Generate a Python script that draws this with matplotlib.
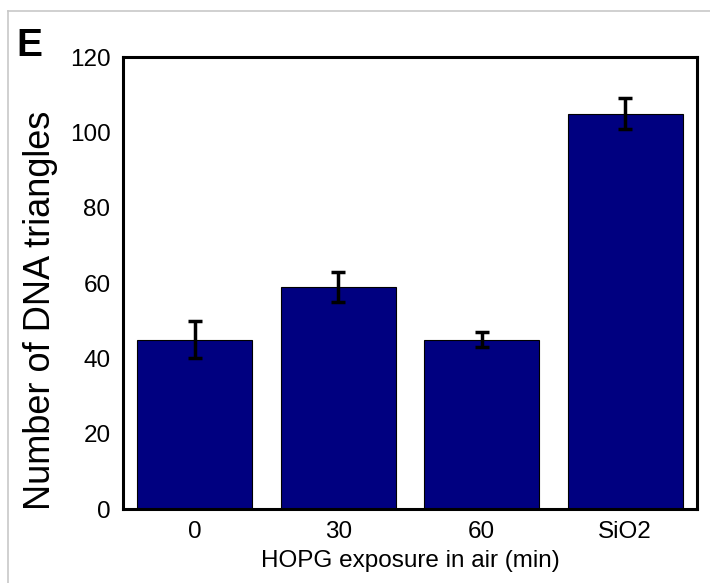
import matplotlib.pyplot as plt
from matplotlib.lines import Line2D

plt.rcParams['font.family'] = ['Liberation Sans', 'DejaVu Sans']

# Datos
categories = ['0', '30', '60', 'SiO2']
counts = [45, 59, 45, 105]
errors = [5, 4, 2, 4]

fig = plt.figure(figsize=(7.1, 5.83), dpi=100)
ax = fig.add_axes([123 / 710, 1 - 509 / 583, (697 - 123) / 710, (509 - 57) / 583])

x = range(len(categories))
ax.bar(x, counts, width=0.8, color='#000080', edgecolor='black', linewidth=0.8,
       yerr=errors, error_kw=dict(ecolor='black', elinewidth=2.5, capsize=5, capthick=2.5))

ax.set_xlim(-0.5, 3.5)
ax.set_ylim(0, 120)
ax.set_yticks(range(0, 121, 20))
ax.set_xticks(list(x))
ax.set_xticklabels(categories)
ax.tick_params(axis='both', labelsize=17.5, length=0)
ax.tick_params(axis='x', pad=9)
ax.tick_params(axis='y', pad=9)
for s in ax.spines.values():
    s.set_linewidth(2.2)

ax.set_xlabel('HOPG exposure in air (min)', fontsize=17.5, labelpad=5)
ax.set_ylabel('Number of DNA triangles', fontsize=26)
ax.yaxis.set_label_coords(-0.114, 0.44)

fig.text(16 / 710, 1 - 46 / 583, 'E', fontsize=28, fontweight='bold', va='center', ha='left')

# marco gris claro del panel
fig.add_artist(Line2D([8 / 710, 1], [1 - 11 / 583, 1 - 11 / 583], color='#c8c8c8', lw=1.2))
fig.add_artist(Line2D([8 / 710, 8 / 710], [0, 1 - 11 / 583], color='#c8c8c8', lw=1.2))

fig.savefig('out.png', dpi=100)
